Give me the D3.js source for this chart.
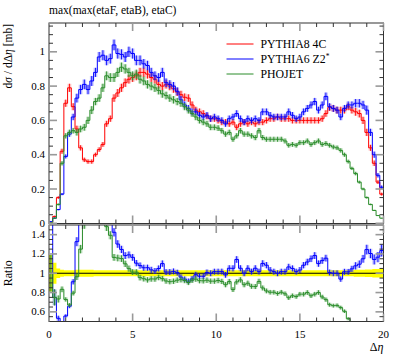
<!DOCTYPE html>
<html><head><meta charset="utf-8">
<script src="https://cdn.jsdelivr.net/npm/d3@7"></script>
<style>
body{margin:0;background:#fff}
svg{display:block}
text{font-family:"Liberation Serif","DejaVu Serif",serif;fill:#000}
</style>
</head><body><svg id="c" width="397" height="358"></svg>
<script>
const title = "max(max(etaF, etaB), etaC)";
const xDomain = [0, 20];
const nBins = 90;
const seriesNames = ["PYTHIA8 4C", "PYTHIA6 Z2*", "PHOJET"];
const seriesColors = ["#ff0000", "#0000ff", "#2a8c2a"];
const bandColors = ["rgba(255,80,80,0.35)", "rgba(80,80,255,0.35)", "rgba(80,170,80,0.35)"];

const pythia8 = [
 .005,.04,.15,.42,.70,.79,.68,.55,.44,.37,.36,.36,.40,.43,.46,.58,.61,.73,.76,.79,.82,.84,
 .85,.86,.88,.88,.87,.85,.84,.81,.80,.81,.80,.785,.765,.75,.735,.73,.69,.66,.65,.64,.625,.61,
 .61,.60,.59,.59,.58,.59,.56,.58,.59,.58,.59,.58,.59,.59,.60,.61,.61,.62,.61,.61,.61,.60,
 .60,.60,.60,.60,.60,.60,.60,.61,.64,.675,.67,.66,.66,.66,.68,.66,.65,.64,.60,.53,.44,.35,.24,.17];
const pythia6 = [
 .01,.03,.08,.17,.39,.52,.62,.73,.78,.81,.78,.83,.88,.97,.98,.95,.96,1.04,.99,.985,.97,1.0,
 .99,.95,.95,.93,.92,.88,.86,.85,.88,.82,.81,.80,.77,.72,.69,.67,.65,.65,.63,.62,.63,.61,
 .62,.61,.60,.58,.61,.62,.64,.61,.59,.61,.60,.61,.60,.65,.65,.63,.62,.62,.62,.62,.65,.63,
 .61,.62,.65,.67,.69,.71,.66,.69,.74,.68,.67,.66,.62,.67,.69,.69,.70,.70,.69,.66,.53,.40,.28,.21];
const phojet = [
 .005,.03,.11,.35,.51,.53,.54,.53,.55,.56,.60,.66,.71,.73,.79,.86,.85,.85,.88,.91,.90,.88,
 .86,.87,.84,.83,.81,.80,.79,.775,.755,.745,.73,.72,.71,.70,.68,.66,.64,.62,.60,.59,.58,.56,
 .56,.555,.54,.52,.53,.49,.51,.54,.52,.52,.51,.50,.54,.50,.49,.49,.49,.49,.49,.48,.455,.46,
 .455,.47,.47,.48,.46,.47,.48,.46,.465,.455,.445,.44,.425,.40,.36,.32,.29,.24,.20,.15,.11,.075,.045,.03];
const relErr = [
 .19,.11,.05,.035,.03,.03,.03,.035,.035,.035,.035,.035,.03,.03,.03,.03,.03,.03,.03,.03,.03,.03,
 .03,.03,.03,.03,.03,.03,.03,.03,.03,.03,.03,.03,.03,.03,.03,.03,.03,.03,.03,.03,.03,.03,
 .03,.03,.03,.03,.03,.03,.03,.03,.03,.03,.03,.03,.03,.03,.03,.03,.03,.03,.03,.03,.03,.03,
 .03,.03,.03,.03,.03,.03,.03,.03,.03,.03,.03,.03,.03,.03,.03,.03,.035,.035,.035,.04,.04,.045,.045,.05];

const mainYTicks = [0, 0.2, 0.4, 0.6, 0.8, 1];
const mainYTickLabels = ["0", "0.2", "0.4", "0.6", "0.8", "1"];
const ratioYTicks = [0.6, 0.8, 1, 1.2, 1.4];
const ratioYTickLabels = ["0.6", "0.8", "1", "1.2", "1.4"];
const xTicks = [0, 5, 10, 15, 20];
const xTickLabels = ["0", "5", "10", "15", "20"];

const series = [pythia8, pythia6, phojet];

const svg = d3.select("#c");
const L = 49, R = 383.5, MT = 23, MB = 223.5, RT = 225, RB = 321.5;
const x = d3.scaleLinear().domain(xDomain).range([L, R]);
const yM = d3.scaleLinear().domain([0, 1.168]).range([223.3, MT]);
const yR = d3.scaleLinear().domain([0.5, 1.5]).range([RB, RT]);
const edges = d3.range(nBins + 1).map(i => xDomain[0] + i * (xDomain[1] - xDomain[0]) / nBins);
const centers = d3.range(nBins).map(i => (edges[i] + edges[i + 1]) / 2);

const defs = svg.append("defs");
defs.append("clipPath").attr("id", "cm").append("rect").attr("x", L).attr("y", MT).attr("width", R - L).attr("height", MB - MT);
defs.append("clipPath").attr("id", "cr").append("rect").attr("x", L).attr("y", RT).attr("width", R - L).attr("height", RB - RT);

function stepPts(vals) { return edges.map((e, i) => [e, vals[Math.min(i, nBins - 1)]]); }

function drawHist(g, y, vals, errs, color, band) {
  const pts = stepPts(vals);
  const epts = edges.map((e, i) => [e, errs[Math.min(i, nBins - 1)]]);
  const area = d3.area().curve(d3.curveStepAfter)
    .x(d => x(d[0])).y0((d, i) => y(d[1] - epts[i][1])).y1((d, i) => y(d[1] + epts[i][1]));
  g.append("path").attr("d", area(pts)).attr("fill", band).attr("stroke", "none");
  const line = d3.line().curve(d3.curveStepAfter).x(d => x(d[0])).y(d => y(d[1]));
  g.append("path").attr("d", line(pts)).attr("fill", "none").attr("stroke", color).attr("stroke-width", 1);
  g.selectAll(null).data(centers).enter().append("line")
    .attr("x1", d => x(d)).attr("x2", d => x(d))
    .attr("y1", (d, i) => y(vals[i] - errs[i])).attr("y2", (d, i) => y(vals[i] + errs[i]))
    .attr("stroke", color).attr("stroke-width", 0.9);
}

// main panel
const gm = svg.append("g").attr("clip-path", "url(#cm)");
series.forEach((s, k) => {
  const errs = s.map((v, i) => v * relErr[i]);
  drawHist(gm, yM, s, errs, seriesColors[k], bandColors[k]);
});

// ratio panel
const gr = svg.append("g").attr("clip-path", "url(#cr)");
const ones = pythia8.map(() => 1);
{
  const pts = stepPts(ones);
  const area = d3.area().curve(d3.curveStepAfter).x(d => x(d[0]))
    .y0((d, i) => yR(1 - relErr[Math.min(i, nBins - 1)])).y1((d, i) => yR(1 + relErr[Math.min(i, nBins - 1)]));
  gr.append("path").attr("d", area(pts)).attr("fill", "#ffff00");
  gr.append("line").attr("x1", x(0)).attr("x2", x(20)).attr("y1", yR(1)).attr("y2", yR(1)).attr("stroke", "#000").attr("stroke-width", 1);
}
[1, 2].forEach(k => {
  const r = series[k].map((v, i) => v / pythia8[i]);
  const errs = r.map((v, i) => v * relErr[i]);
  drawHist(gr, yR, r, errs, seriesColors[k], bandColors[k]);
});

// frames
[[MT, MB], [RT, RB]].forEach(([t, b]) => {
  svg.append("rect").attr("x", L).attr("y", t).attr("width", R - L).attr("height", b - t)
    .attr("fill", "none").attr("stroke", "#333").attr("stroke-width", 1);
});

// ticks
function xTicksAt(yPos, dir) {
  const minor = d3.range(0, 21, 1).filter(v => v % 5 !== 0);
  svg.selectAll(null).data(minor).enter().append("line")
    .attr("x1", d => x(d)).attr("x2", d => x(d)).attr("y1", yPos).attr("y2", yPos + dir * 4)
    .attr("stroke", "#333").attr("stroke-width", 1);
  svg.selectAll(null).data(xTicks).enter().append("line")
    .attr("x1", d => x(d)).attr("x2", d => x(d)).attr("y1", yPos).attr("y2", yPos + dir * 8)
    .attr("stroke", "#999").attr("stroke-width", 1.6);
}
xTicksAt(MT, 1); xTicksAt(MB, -1); xTicksAt(RT, 1); xTicksAt(RB, -1);

function yTicksAt(y, majors, lo, hi) {
  const minor = d3.range(Math.round(lo * 20), Math.round(hi * 20) + 1).map(v => v / 20)
    .filter(v => !majors.some(m => Math.abs(m - v) < 1e-6));
  [L, R].forEach((xp, side) => {
    const dir = side === 0 ? 1 : -1;
    svg.selectAll(null).data(minor).enter().append("line")
      .attr("x1", xp).attr("x2", xp + dir * 4).attr("y1", d => y(d)).attr("y2", d => y(d))
      .attr("stroke", "#333").attr("stroke-width", 1);
    svg.selectAll(null).data(majors).enter().append("line")
      .attr("x1", xp).attr("x2", xp + dir * 8).attr("y1", d => y(d)).attr("y2", d => y(d))
      .attr("stroke", "#999").attr("stroke-width", 1.6);
  });
}
yTicksAt(yM, mainYTicks, 0.05, 1.15);
yTicksAt(yR, ratioYTicks, 0.55, 1.45);

// tick labels
svg.selectAll(null).data(mainYTicks).enter().append("text")
  .attr("x", 45).attr("y", d => yM(d) + 3.5).attr("text-anchor", "end").attr("font-size", 11)
  .text((d, i) => mainYTickLabels[i]);
svg.selectAll(null).data(ratioYTicks).enter().append("text")
  .attr("x", 45).attr("y", d => yR(d) + 3.5).attr("text-anchor", "end").attr("font-size", 11)
  .text((d, i) => ratioYTickLabels[i]);
svg.selectAll(null).data(xTicks).enter().append("text")
  .attr("x", d => x(d)).attr("y", 338).attr("text-anchor", "middle").attr("font-size", 11)
  .text((d, i) => xTickLabels[i]);

// title
svg.append("text").attr("x", 49).attr("y", 14).attr("font-size", 11.5).text(title);

// axis labels
const xl = svg.append("text").attr("x", R).attr("y", 351).attr("text-anchor", "end").attr("font-size", 12);
xl.append("tspan").text("Δ");
xl.append("tspan").attr("font-style", "italic").text("η");

const yl = svg.append("text").attr("transform", "translate(12,24) rotate(-90)").attr("text-anchor", "end").attr("font-size", 11.5);
yl.append("tspan").text("d");
yl.append("tspan").attr("font-style", "italic").text("σ");
yl.append("tspan").text(" / dΔ");
yl.append("tspan").attr("font-style", "italic").text("η");
yl.append("tspan").text(" [mb]");

svg.append("text").attr("transform", `translate(12,${yR(1)}) rotate(-90)`).attr("text-anchor", "middle")
  .attr("font-size", 12).text("Ratio");

// legend
const legY = [44, 59, 74];
seriesNames.forEach((name, k) => {
  svg.append("line").attr("x1", 226.5).attr("x2", 253.5).attr("y1", legY[k]).attr("y2", legY[k])
    .attr("stroke", seriesColors[k]).attr("stroke-width", 1);
  const t = svg.append("text").attr("x", 260.5).attr("y", legY[k] + 4).attr("font-size", 11.8);
  if (name.endsWith("*")) {
    t.append("tspan").text(name.slice(0, -1));
    t.append("tspan").attr("font-size", 7.5).attr("dy", -4.5).text("*");
  } else t.text(name);
});
</script>
</body></html>
